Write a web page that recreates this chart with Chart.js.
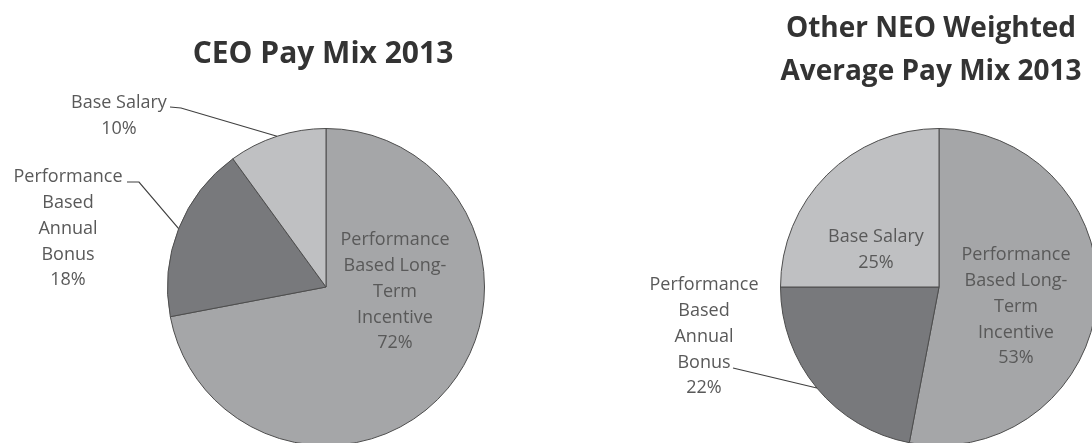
<!DOCTYPE html>
<html>
<head>
<meta charset="utf-8">
<script src="https://cdn.jsdelivr.net/npm/chart.js@4.4.1/dist/chart.umd.min.js"></script>
<style>
  html, body { margin: 0; padding: 0; background: #fff; width: 1092px; height: 443px; overflow: hidden; }
  .box { position: absolute; top: 0; height: 452px; }
</style>
</head>
<body>
<div class="box" style="left:0; width:546px;"><canvas id="ceo-chart"></canvas></div>
<div class="box" style="left:546px; width:564px;"><canvas id="neo-chart"></canvas></div>
<script>
// Pay mix data (percent)
const categories = ['Performance Based Long-Term Incentive', 'Performance Based Annual Bonus', 'Base Salary'];
const labelLines = [['Performance', 'Based Long-', 'Term', 'Incentive'], ['Performance', 'Based', 'Annual', 'Bonus'], ['Base Salary']];
const ceoValues = [72, 18, 10];
const neoValues = [53, 22, 25];
const sliceColors = ['#a5a6a8', '#78797c', '#bfc0c2'];

// label placement (page coords), one entry per slice
const ceoLayout = [
  { x: 395, y: 240 },
  { x: 68, y: 177, leader: [[127, 182], [139, 182]] },
  { x: 119, y: 103, leader: [[170, 107], [181, 108]] }
];
const neoLayout = [
  { x: 1016, y: 255 },
  { x: 704, y: 285, leader: [[733, 368]] },
  { x: 876, y: 237 }
];

const labelPlugin = {
  id: 'payLabels',
  afterDraw(chart, args, opts) {
    const ctx = chart.ctx;
    const ox = opts.offsetX;
    const arcs = chart.getDatasetMeta(0).data;
    const values = chart.data.datasets[0].data;
    ctx.save();
    // title
    ctx.fillStyle = '#333333';
    ctx.font = 'bold ' + opts.titleSize + 'px "Open Sans"';
    ctx.textAlign = 'center';
    ctx.textBaseline = 'alphabetic';
    opts.title.forEach((t, i) => ctx.fillText(t, opts.titleX - ox, opts.titleY + i * 43));

    // slice labels
    ctx.font = '18px "Open Sans"';
    ctx.textBaseline = 'middle';
    ctx.fillStyle = '#595959';
    opts.layout.forEach((l, i) => {
      const lines = labelLines[i].concat([values[i] + '%']);
      lines.forEach((s, j) => ctx.fillText(s, l.x - ox, l.y + j * 25.8));
      if (l.leader) {
        const a = arcs[i];
        const mid = (a.startAngle + a.endAngle) / 2;
        ctx.strokeStyle = '#404040';
        ctx.lineWidth = 1.2;
        ctx.beginPath();
        l.leader.forEach((p, k) => k === 0 ? ctx.moveTo(p[0] - ox, p[1]) : ctx.lineTo(p[0] - ox, p[1]));
        ctx.lineTo(a.x + a.outerRadius * Math.cos(mid), a.y + a.outerRadius * Math.sin(mid));
        ctx.stroke();
      }
    });
    ctx.restore();
  }
};

function makePie(id, values, padding, pluginOpts) {
  return new Chart(document.getElementById(id), {
    type: 'pie',
    data: {
      labels: categories,
      datasets: [{
        data: values,
        backgroundColor: sliceColors,
        borderColor: '#4d4d4d',
        borderWidth: 1
      }]
    },
    options: {
      responsive: true,
      maintainAspectRatio: false,
      animation: false,
      events: [],
      layout: { padding },
      plugins: {
        legend: { display: false },
        tooltip: { enabled: false },
        title: { display: false },
        payLabels: pluginOpts
      }
    },
    plugins: [labelPlugin]
  });
}

makePie('ceo-chart', ceoValues, { left: 167, right: 61, top: 128, bottom: 6 },
  { offsetX: 0, title: ['CEO Pay Mix 2013'], titleSize: 30, titleX: 323, titleY: 63, layout: ceoLayout });
makePie('neo-chart', neoValues, { left: 234, right: 12, top: 128, bottom: 6 },
  { offsetX: 546, title: ['Other NEO Weighted', 'Average Pay Mix 2013'], titleSize: 28, titleX: 931, titleY: 37, layout: neoLayout });
</script>
</body>
</html>
